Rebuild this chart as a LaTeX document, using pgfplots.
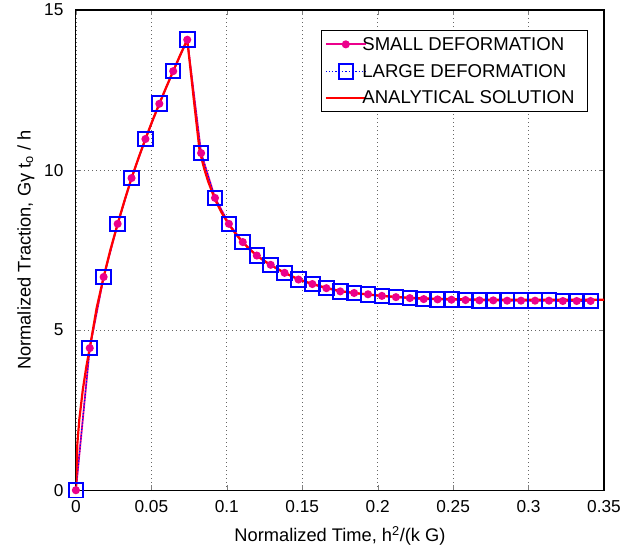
\documentclass[border=0pt]{standalone}
\usepackage{pgfplots}
\pgfplotsset{compat=1.18}
\usepackage{fontspec}
\setmainfont{Liberation Sans}
\newcommand{\fs}{\fontsize{18.3bp}{21bp}\selectfont}
\newcommand{\fl}{\fontsize{18.6bp}{21bp}\selectfont}
\newcommand{\ft}{\fontsize{17.3bp}{20bp}\selectfont}
\newcommand{\lt}[1]{\hspace*{-7bp}#1\hspace*{7bp}}
\begin{document}
\begin{tikzpicture}
\path[use as bounding box] (-76bp,-60bp) rectangle (547bp,491bp);
\begin{axis}[
  at={(0,0)}, anchor=south west,
  scale only axis, width=529bp, height=481bp,
  xmin=0, xmax=0.35, ymin=0, ymax=15,
  xtick={0,0.05,...,0.35}, ytick={0,5,10,15},
  xticklabels={0,0.05,0.1,0.15,0.2,0.25,0.3,0.35},
  /pgf/number format/assume math mode=true,
  tick label style={font=\ft},
  xticklabel style={yshift=-7bp},
  yticklabel style={xshift=-9bp},
  tick align=inside, major tick length=5bp,
  axis line style={line width=1.2bp},
  grid=major,
  major grid style={black!60, line width=0.7bp, dash pattern=on 0.7bp off 3.3bp},
  xlabel={Normalized Time, h\textsuperscript{2}/(k G)},
  ylabel={Normalized Traction, Gγ t\textsubscript{o} / h},
  label style={font=\fs},
  xlabel style={at={(axis description cs:0.5,0)}, anchor=north, yshift=-33bp},
  ylabel style={at={(axis description cs:0,0.5)}, anchor=south, yshift=38bp},
  legend style={at={(axis description cs:0.9698,0.958)}, anchor=north east,
    font=\fl, draw=black, line width=1bp, inner xsep=3.5bp, inner ysep=4.5bp,
    nodes={inner xsep=2.5bp},
    row sep=8.5bp, /tikz/every even column/.append style={column sep=0bp}},
  legend cell align=left,
  legend image code/.code={\draw[#1] (0bp,0bp) -- (20bp,0bp) plot coordinates {(20bp,0bp)} -- (40bp,0bp);},
]
% SMALL DEFORMATION
\addplot[color=magenta, line width=1.8bp, mark=*, mark size=3.1bp, mark options={solid}] coordinates {
(0.0000,0.00) (0.0092,4.44) (0.0184,6.66) (0.0277,8.32) (0.0369,9.75) (0.0461,10.97)
(0.0553,12.07) (0.0645,13.09) (0.0738,14.07) (0.0830,10.53) (0.0922,9.13) (0.1014,8.32)
(0.1106,7.75) (0.1199,7.33) (0.1291,7.04) (0.1383,6.79) (0.1475,6.58) (0.1567,6.44)
(0.1660,6.31) (0.1752,6.21) (0.1844,6.16) (0.1936,6.12) (0.2028,6.07) (0.2121,6.03)
(0.2213,6.00) (0.2305,5.97) (0.2397,5.96) (0.2489,5.95) (0.2582,5.94) (0.2674,5.93)
(0.2766,5.93) (0.2858,5.92) (0.2950,5.92) (0.3043,5.92) (0.3135,5.92) (0.3227,5.91)
(0.3319,5.91) (0.3411,5.91)
};
\addlegendentry{\lt{SMALL DEFORMATION}}
% LARGE DEFORMATION
\addplot[color=blue, line width=1.2bp, dotted, mark=square, mark size=7.3bp, mark options={solid, line width=2bp}] coordinates {
(0.0000,0.00) (0.0092,4.44) (0.0184,6.66) (0.0277,8.32) (0.0369,9.75) (0.0461,10.97)
(0.0553,12.07) (0.0645,13.09) (0.0738,14.07) (0.0830,10.53) (0.0922,9.13) (0.1014,8.32)
(0.1106,7.75) (0.1199,7.33) (0.1291,7.04) (0.1383,6.79) (0.1475,6.58) (0.1567,6.44)
(0.1660,6.31) (0.1752,6.21) (0.1844,6.16) (0.1936,6.12) (0.2028,6.07) (0.2121,6.03)
(0.2213,6.00) (0.2305,5.97) (0.2397,5.96) (0.2489,5.95) (0.2582,5.94) (0.2674,5.93)
(0.2766,5.93) (0.2858,5.92) (0.2950,5.92) (0.3043,5.92) (0.3135,5.92) (0.3227,5.91)
(0.3319,5.91) (0.3411,5.91)
};
\addlegendentry{\lt{LARGE DEFORMATION}}
% ANALYTICAL SOLUTION
\addplot[color=red, line width=2.2bp, no marks] coordinates {
(0.0000,0.00) (0.0010,1.46) (0.0023,2.22) (0.0046,3.14) (0.0069,3.85) (0.0092,4.44)
(0.0138,5.70) (0.0184,6.66) (0.0230,7.53) (0.0277,8.32) (0.0323,9.06) (0.0369,9.75)
(0.0415,10.38) (0.0461,10.97) (0.0507,11.54) (0.0553,12.07) (0.0599,12.59) (0.0645,13.09)
(0.0691,13.59) (0.0738,14.07) (0.0784,12.10) (0.0820,10.60) (0.0850,10.05) (0.0876,9.65)
(0.0922,9.08) (0.0968,8.65) (0.1014,8.30) (0.1060,8.00) (0.1106,7.74) (0.1152,7.52)
(0.1199,7.33) (0.1245,7.17) (0.1291,7.03) (0.1383,6.79) (0.1475,6.59) (0.1567,6.44)
(0.1660,6.32) (0.1752,6.22) (0.1844,6.16) (0.1936,6.11) (0.2028,6.07) (0.2121,6.04)
(0.2213,6.01) (0.2305,5.99) (0.2397,5.98) (0.2489,5.97) (0.2582,5.96) (0.2766,5.95)
(0.2950,5.95) (0.3135,5.95) (0.3319,5.95) (0.3500,5.95)
};
\addlegendentry{\lt{ANALYTICAL SOLUTION}}
\end{axis}
\end{tikzpicture}
\end{document}
